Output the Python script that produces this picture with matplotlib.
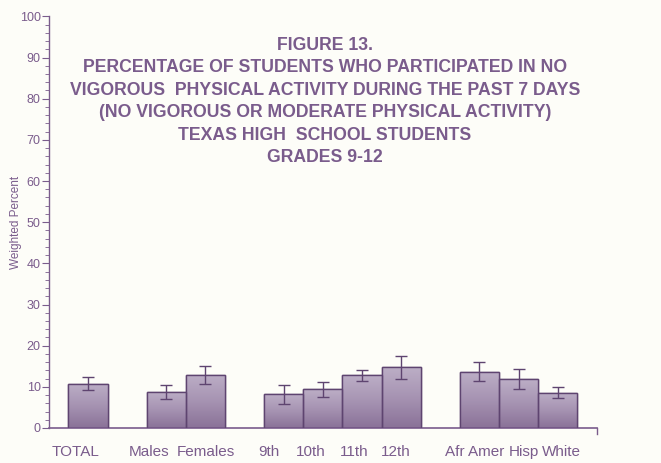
import matplotlib
matplotlib.use("Agg")
import matplotlib.pyplot as plt
import matplotlib.transforms as mtransforms
import numpy as np
from matplotlib.colors import LinearSegmentedColormap

categories = ["TOTAL", "Males", "Females", "9th", "10th", "11th", "12th", "Afr Amer", "Hisp", "White"]
positions = [1, 3, 4, 6, 7, 8, 9, 11, 12, 13]
values = [10.8, 8.8, 12.9, 8.2, 9.4, 12.8, 14.7, 13.7, 11.9, 8.6]
errors = [1.6, 1.7, 2.1, 2.3, 1.8, 1.3, 2.8, 2.3, 2.4, 1.4]
# horizontal label offsets (pixels) as in the original layout
label_shift = [-12, -17, 0, -15, -12, -8, -5, -5, 5, 4]

title_lines = [
    "FIGURE 13.",
    "PERCENTAGE OF STUDENTS WHO PARTICIPATED IN NO",
    "VIGOROUS  PHYSICAL ACTIVITY DURING THE PAST 7 DAYS",
    "(NO VIGOROUS OR MODERATE PHYSICAL ACTIVITY)",
    "TEXAS HIGH  SCHOOL STUDENTS",
    "GRADES 9-12",
]

purple = "#7a5c8c"
edge = "#5e4470"

plt.rcParams['font.family'] = ['Liberation Sans', 'DejaVu Sans']

fig = plt.figure(figsize=(6.61, 4.63), dpi=100)
fig.patch.set_facecolor("#fdfdf8")
ax = fig.add_axes([0.074, 0.0756, 0.829, 0.889])
ax.set_facecolor("none")

bars = ax.bar(positions, values, width=1.0, color="#a08dac", edgecolor=edge, linewidth=1.0, zorder=2)

cmap = LinearSegmentedColormap.from_list("g", ["#8a7298", "#a693b2", "#bcaec6"])
grad = np.linspace(0, 1, 100).reshape(-1, 1)
for b in bars:
    x0, y0 = b.get_x(), b.get_y()
    w, h = b.get_width(), b.get_height()
    im = ax.imshow(grad, extent=[x0, x0 + w, y0, y0 + h], origin="lower", cmap=cmap,
                   aspect="auto", zorder=2.5)
    im.set_clip_path(b)
    ax.add_patch(plt.Rectangle((x0, y0), w, h, fill=False, edgecolor=edge, linewidth=1.0, zorder=3))

ax.errorbar(positions, values, yerr=errors, fmt="none", ecolor=edge, elinewidth=1.0,
            capsize=4, capthick=1.0, zorder=4)

ax.set_xlim(0, 14)
ax.set_ylim(0, 100)
ax.set_yticks(np.arange(0, 101, 10))
ax.set_yticks(np.arange(0, 101, 2), minor=True)
ax.tick_params(axis="y", which="major", length=5, color=purple, labelcolor=purple, labelsize=9, pad=1)
ax.tick_params(axis="y", which="minor", length=3, color=purple)
ax.set_xticks(positions)
ax.set_xticklabels(categories, fontsize=11, color=purple)
ax.tick_params(axis="x", length=0, pad=12)
for lbl, dx in zip(ax.get_xticklabels(), label_shift):
    lbl.set_transform(lbl.get_transform() + mtransforms.ScaledTranslation(dx / 100, 0, fig.dpi_scale_trans))
for s in ["top", "right"]:
    ax.spines[s].set_visible(False)
ax.spines["left"].set_color(purple)
ax.spines["bottom"].set_color(purple)
ax.spines["left"].set_linewidth(1.0)
ax.spines["bottom"].set_linewidth(1.2)
ax.plot([14, 14], [0, -1.5], color=purple, lw=1.0, clip_on=False)

ax.set_ylabel("Weighted Percent", fontsize=8.5, color=purple, va="center")
ax.yaxis.set_label_coords((16 - 49) / 548, 0.5)

y0 = 45
for i, line in enumerate(title_lines):
    fig.text(325 / 661, 1 - (y0 + i * 22.6) / 463, line, ha="center", va="center",
             fontsize=12.7, fontweight="bold", color=purple)

fig.savefig("out.png", dpi=100, facecolor=fig.get_facecolor())
